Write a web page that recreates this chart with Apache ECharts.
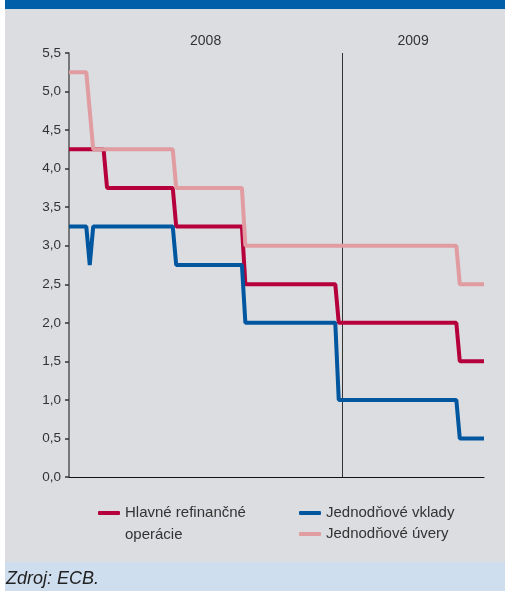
<!DOCTYPE html>
<html>
<head>
<meta charset="utf-8">
<script src="https://cdn.jsdelivr.net/npm/echarts@6/dist/echarts.min.js"></script>
<style>
  html, body { margin: 0; padding: 0; background: #ffffff; }
  #chart { width: 505px; height: 591px; }
</style>
</head>
<body>
<div id="chart"></div>
<script>
// ECB key interest rates, daily over TARGET business days
var startDate = '2008-09-30';
var endDate = '2009-03-20';
var closedDays = ['2008-12-25', '2008-12-26', '2009-01-01'];

// Dates on which the rate levels below take effect
var changeDates = ['2008-09-30', '2008-10-08', '2008-10-09', '2008-10-15', '2008-11-12', '2008-12-10', '2009-01-21', '2009-03-11'];
var mainRefi   = [4.25, 4.25, 4.25, 3.75, 3.25, 2.50, 2.00, 1.50];
var depositFac = [3.25, 2.75, 3.25, 3.25, 2.75, 2.00, 1.00, 0.50];
var lendingFac = [5.25, 4.75, 4.25, 4.25, 3.75, 3.00, 3.00, 2.50];

var seriesNames = ['Hlavné refinančné operácie', 'Jednodňové vklady', 'Jednodňové úvery'];
var seriesColors = ['#b5003b', '#0057a0', '#e09ca1'];

var yearLabels = ['2008', '2009'];
var yearBreak = '2009-01-22';

function fmt(d) {
  var m = d.getUTCMonth() + 1, day = d.getUTCDate();
  return d.getUTCFullYear() + '-' + (m < 10 ? '0' : '') + m + '-' + (day < 10 ? '0' : '') + day;
}

// Business-day calendar
var days = [];
for (var d = new Date(startDate + 'T00:00:00Z'); fmt(d) <= endDate; d.setUTCDate(d.getUTCDate() + 1)) {
  var wd = d.getUTCDay();
  var s = fmt(d);
  if (wd !== 0 && wd !== 6 && closedDays.indexOf(s) < 0) days.push(s);
}

// Rate in force on each business day
function expand(levels) {
  return days.map(function (day) {
    var v = levels[0];
    for (var i = 0; i < changeDates.length; i++) if (changeDates[i] <= day) v = levels[i];
    return v;
  });
}
var seriesData = [expand(mainRefi), expand(depositFac), expand(lendingFac)];

var font = '"Liberation Sans", Arial, sans-serif';
var chart = echarts.init(document.getElementById('chart'));

var option = {
  animation: false,
  backgroundColor: '#ffffff',
  textStyle: { fontFamily: font },
  graphic: [
    { type: 'rect', z: -10, shape: { x: 5, y: 0, width: 500, height: 9 }, style: { fill: '#005fa9' } },
    { type: 'rect', z: -10, shape: { x: 5, y: 9, width: 500, height: 553 }, style: { fill: '#dcdde0' } },
    { type: 'rect', z: -10, shape: { x: 5, y: 562, width: 500, height: 29 }, style: { fill: '#cfdeee' } }
  ],
  title: {
    text: 'Zdroj: ECB.',
    left: 6, top: 570, padding: 0,
    textStyle: { fontFamily: font, fontStyle: 'italic', fontWeight: 'normal', fontSize: 18, color: '#222' }
  },
  grid: { left: 69, right: 21, top: 53, bottom: 114 },
  xAxis: {
    type: 'category',
    data: days,
    boundaryGap: false,
    axisLine: { lineStyle: { color: '#111', width: 1 } },
    axisTick: { show: false },
    axisLabel: { show: false },
    splitLine: { show: false }
  },
  yAxis: {
    type: 'value',
    min: 0, max: 5.5, interval: 0.5,
    axisLine: { show: true, lineStyle: { color: '#555', width: 1.5 } },
    axisTick: { show: true, length: 4, lineStyle: { color: '#333', width: 1.5 } },
    axisLabel: {
      margin: 8, fontSize: 13.5, color: '#333', fontFamily: font,
      formatter: function (v) { return v.toFixed(1).replace('.', ','); }
    },
    splitLine: { show: false }
  },
  legend: [
    {
      left: 98, top: 480, padding: 0,
      itemWidth: 22, itemHeight: 4, itemGap: 0,
      icon: 'roundRect',
      data: [seriesNames[0]],
      // leading blank line keeps the swatch level with the first text line
      formatter: function (n) { return '\n' + n.replace(' operácie', '\noperácie'); },
      textStyle: { fontFamily: font, fontSize: 15, color: '#333', lineHeight: 22 }
    },
    {
      left: 299, top: 505, padding: 0, orient: 'vertical',
      itemWidth: 22, itemHeight: 4, itemGap: 5,
      icon: 'roundRect',
      data: [seriesNames[1], seriesNames[2]],
      textStyle: { fontFamily: font, fontSize: 15, color: '#333', lineHeight: 16 }
    }
  ],
  series: seriesNames.map(function (name, i) {
    var s = {
      name: name,
      type: 'line',
      data: seriesData[i],
      showSymbol: false,
      symbol: 'none',
      color: seriesColors[i],
      lineStyle: { width: 4, color: seriesColors[i] },
      z: 2 + i
    };
    if (i === 0) {
      s.markLine = {
        silent: true,
        symbol: 'none',
        label: { show: false },
        lineStyle: { color: '#333', width: 1, type: 'solid' },
        data: [{ xAxis: yearBreak }],
        z: 1
      };
    }
    return s;
  })
};
chart.setOption(option);

// Year captions centred over each year's span
var x0 = chart.convertToPixel({ xAxisIndex: 0 }, days[0]);
var xb = chart.convertToPixel({ xAxisIndex: 0 }, yearBreak);
var x1 = chart.convertToPixel({ xAxisIndex: 0 }, days[days.length - 1]);
var spans = [[x0, xb], [xb, x1]];
chart.setOption({
  graphic: option.graphic.concat(yearLabels.map(function (t, i) {
    return {
      type: 'text',
      x: (spans[i][0] + spans[i][1]) / 2,
      y: 41,
      style: { text: t, fontFamily: font, fontSize: 14, fill: '#333', align: 'center', verticalAlign: 'middle' }
    };
  }))
});
</script>
</body>
</html>
